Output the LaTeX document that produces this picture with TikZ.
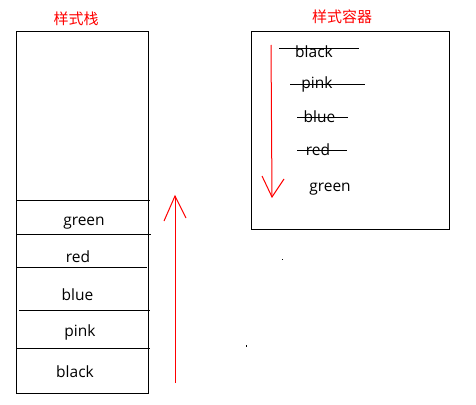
\documentclass[tikz,border=0pt]{standalone}
\usepackage{fontspec}
\setmainfont{Open Sans}
\newfontfamily\cjk{Noto Sans CJK SC}
\begin{document}
\begin{tikzpicture}[x=1pt,y=-1pt,
  lbl/.style={font=\fontsize{15.5}{18}\selectfont, inner sep=0pt, anchor=base},
  ttl/.style={font=\cjk\fontsize{15}{18}\selectfont, text=red, inner sep=0pt},
  box/.style={draw=black, line width=1pt},
  sep/.style={draw=black, line width=1pt},
  strike/.style={draw=black, line width=1pt},
  redline/.style={draw=red, line width=1pt}]
\useasboundingbox (0,0) rectangle (476,404);

% titles
\node[ttl] (t1) at (76,19) {样式栈};
\node[ttl] (t2) at (342,17) {样式容器};

% stack box
\draw[box] (16,32) rectangle (148,393);
\draw[sep] (16,200) -- (150,200);
\draw[sep] (16,234) -- (151,234);
\draw[sep] (16,267) -- (147,267);
\draw[sep] (19,310) -- (150,310);
\draw[sep] (16,348) -- (150,348);

\node[lbl] (sg) at (84,225) {green};
\node[lbl] (sr) at (78,262) {red};
\node[lbl] (sb) at (77.5,300) {blue};
\node[lbl] (sp) at (80,336) {pink};
\node[lbl] (sk) at (75,377) {black};

% up arrow
\coordinate (ua) at (175,383);
\coordinate (ub) at (175,196);
\draw[redline] (ua) -- (ub);
\draw[redline] (164,221) -- (ub) -- (186,218);

% container box
\draw[box] (251,32) rectangle (449,229);
\node[lbl] (ck) at (314,57) {black};
\node[lbl] (cp) at (317,88) {pink};
\node[lbl] (cb) at (319.5,122) {blue};
\node[lbl] (cr) at (318,155) {red};
\node[lbl] (cg) at (330,191) {green};
\draw[strike] (279,49) -- (359,49);
\draw[strike] (290,84) -- (365,84);
\draw[strike] (297,117) -- (348,117);
\draw[strike] (297,150) -- (347,150);

% down arrow
\coordinate (da) at (271,45);
\coordinate (db) at (272,197);
\draw[redline] (da) -- (db);
\draw[redline] (262,176) -- (db) -- (284,179);

% stray dots
\fill[black] (281.5,258.5) rectangle (283,260);
\fill[black] (245.5,345) rectangle (246.5,347);
\end{tikzpicture}
\end{document}
